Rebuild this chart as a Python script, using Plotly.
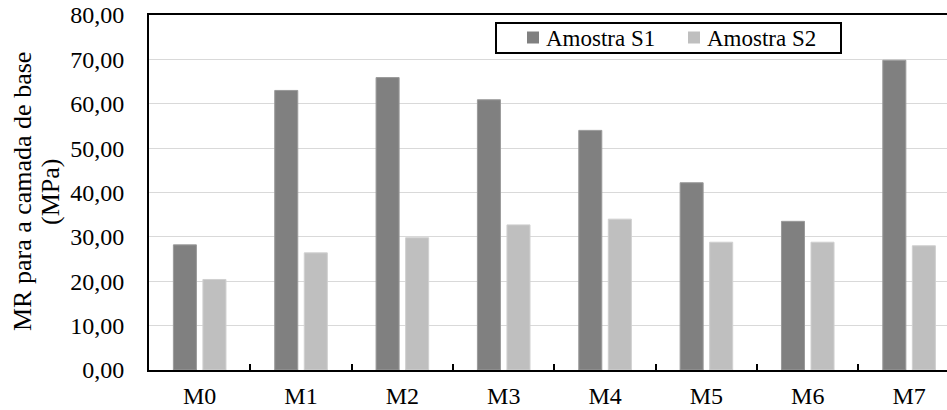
import plotly.graph_objects as go

categories = ["M0", "M1", "M2", "M3", "M4", "M5", "M6", "M7"]
s1_values = [28.2, 63.0, 65.9, 60.9, 54.0, 42.2, 33.5, 69.8]
s2_values = [20.4, 26.4, 29.8, 32.7, 34.0, 28.8, 28.8, 28.0]
series_names = ["Amostra S1", "Amostra S2"]
series_colors = ["#808080", "#bfbfbf"]
edge_colors = ["#9a9a9a", "#d0d0d0"]
y_title_lines = ["MR para a camada de base", "(MPa)"]

FONT = "Liberation Serif"

# plot-area geometry in pixels
L, T, W, H = 149, 15, 798, 355


def px(x):
    return (x - L) / W


def py(y):
    return (T + H - y) / H


fig = go.Figure()
for name, vals, col, edge in zip(series_names, [s1_values, s2_values], series_colors, edge_colors):
    fig.add_trace(go.Bar(x=categories, y=vals, name=name,
                         marker=dict(color=col, line=dict(color=edge, width=1))))

fig.update_layout(
    width=947, height=410,
    margin=dict(l=L, r=947 - L - W, t=T, b=410 - T - H),
    paper_bgcolor="white", plot_bgcolor="white",
    font=dict(family=FONT, size=24, color="black"),
    separators=",.",
    barmode="group", bargap=0.417, bargroupgap=0.22,
    showlegend=False,
    xaxis=dict(range=[-0.5, 7.374], showline=True, linecolor="black", linewidth=2,
               mirror=True, ticks="inside", tickson="boundaries", ticklen=6,
               tickcolor="black", tickwidth=2, showgrid=False, ticklabelstandoff=3,
               tickfont=dict(family=FONT, size=24)),
    yaxis=dict(range=[0, 80], dtick=10, tickformat=".2f", showline=True,
               linecolor="black", linewidth=2, showgrid=True, gridcolor="#d9d9d9",
               gridwidth=1.3, zeroline=False, ticks="", ticklabelstandoff=18,
               tickfont=dict(family=FONT, size=24)),
)

# y-axis title, two lines
for line, cx in zip(y_title_lines, [22, 50]):
    fig.add_annotation(text=line, xref="paper", yref="paper", x=px(cx), y=py(192),
                       xanchor="center", yanchor="middle", textangle=-90,
                       showarrow=False, font=dict(family=FONT, size=26, color="black"))

# legend box
fig.add_shape(type="rect", xref="paper", yref="paper",
              x0=px(496), x1=px(841), y0=py(53), y1=py(23),
              line=dict(color="black", width=2), fillcolor="white", layer="above")
for name, col, mx in zip(series_names, series_colors, [527, 688]):
    fig.add_shape(type="rect", xref="paper", yref="paper",
                  x0=px(mx), x1=px(mx + 12), y0=py(43.5), y1=py(31.5),
                  line=dict(width=0), fillcolor=col, layer="above")
    fig.add_annotation(text=name, xref="paper", yref="paper", x=px(mx + 17), y=py(38),
                       xanchor="left", yanchor="middle", showarrow=False,
                       font=dict(family=FONT, size=23, color="black"))

fig.write_html("out.html")
